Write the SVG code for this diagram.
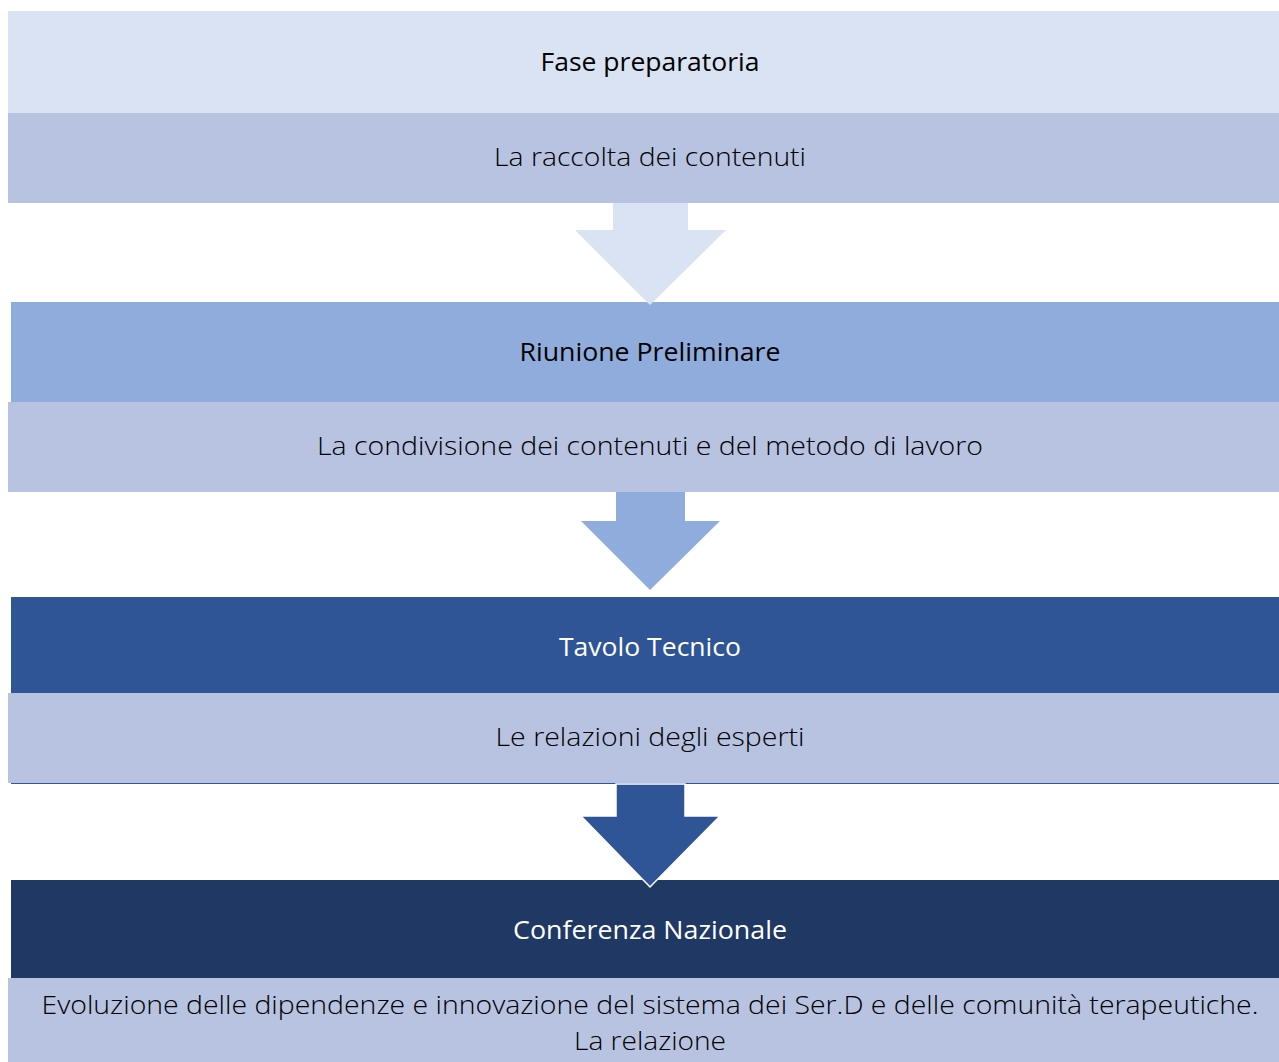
<svg xmlns="http://www.w3.org/2000/svg" width="1279" height="1062" viewBox="0 0 1279 1062">
<style>
.h{font-family:"Open Sans","Liberation Sans",sans-serif;font-size:26px;text-anchor:middle}
.s{font-family:"Open Sans","Liberation Sans",sans-serif;font-size:25px;font-weight:300;text-anchor:middle;fill:#000000}
.sub{fill:#B7C3E1}
</style>
<rect width="1279" height="1062" fill="#ffffff"/>
<g id="node1">
<rect x="8" y="11" width="1271" height="102" fill="#DAE3F3"/>
<rect class="sub" x="8" y="113" width="1271" height="90"/>
<text class="h" x="650" y="71" fill="#000" textLength="219" lengthAdjust="spacingAndGlyphs">Fase preparatoria</text>
<text class="s" x="650" y="166" textLength="312" lengthAdjust="spacingAndGlyphs">La raccolta dei contenuti</text>
</g>
<g id="node2">
<rect x="11" y="302" width="1268" height="100" fill="#8FACDC"/>
<rect class="sub" x="8" y="402" width="1271" height="90"/>
<text class="h" x="650" y="361" fill="#000" textLength="261" lengthAdjust="spacingAndGlyphs">Riunione Preliminare</text>
<text class="s" x="650" y="455" textLength="666" lengthAdjust="spacingAndGlyphs">La condivisione dei contenuti e del metodo di lavoro</text>
</g>
<g id="node3">
<rect x="11" y="597" width="1268" height="96" fill="#2F5597"/>
<rect class="sub" x="8" y="693" width="1271" height="90"/>
<line x1="11" y1="783.5" x2="1279" y2="783.5" stroke="#2F5597" stroke-width="1"/>
<text class="h" x="650" y="656" fill="#fff" textLength="182" lengthAdjust="spacingAndGlyphs">Tavolo Tecnico</text>
<text class="s" x="650" y="746" textLength="309" lengthAdjust="spacingAndGlyphs">Le relazioni degli esperti</text>
</g>
<g id="node4">
<rect x="11" y="880" width="1268" height="98" fill="#203864"/>
<rect class="sub" x="8" y="978" width="1271" height="84"/>
<text class="h" x="650" y="939" fill="#fff" textLength="274" lengthAdjust="spacingAndGlyphs">Conferenza Nazionale</text>
<text class="s" x="650" y="1014" textLength="1217" lengthAdjust="spacingAndGlyphs">Evoluzione delle dipendenze e innovazione del sistema dei Ser.D e delle comunità terapeutiche.</text>
<text class="s" x="650" y="1050" textLength="152" lengthAdjust="spacingAndGlyphs">La relazione</text>
</g>
<g id="connectors">
<polygon points="613,203 688,203 688,230 726,230 650,305 575,230 613,230" fill="#DAE3F3"/>
<polygon points="616,492 685,492 685,521 720,521 650,590 581,521 616,521" fill="#8FACDC"/>
<polygon points="616,784 685,784 685,816 720,816 650,887 581,816 616,816" fill="#2F5597" stroke="#ffffff" stroke-width="1.5" stroke-linejoin="miter"/>
</g>
</svg>
